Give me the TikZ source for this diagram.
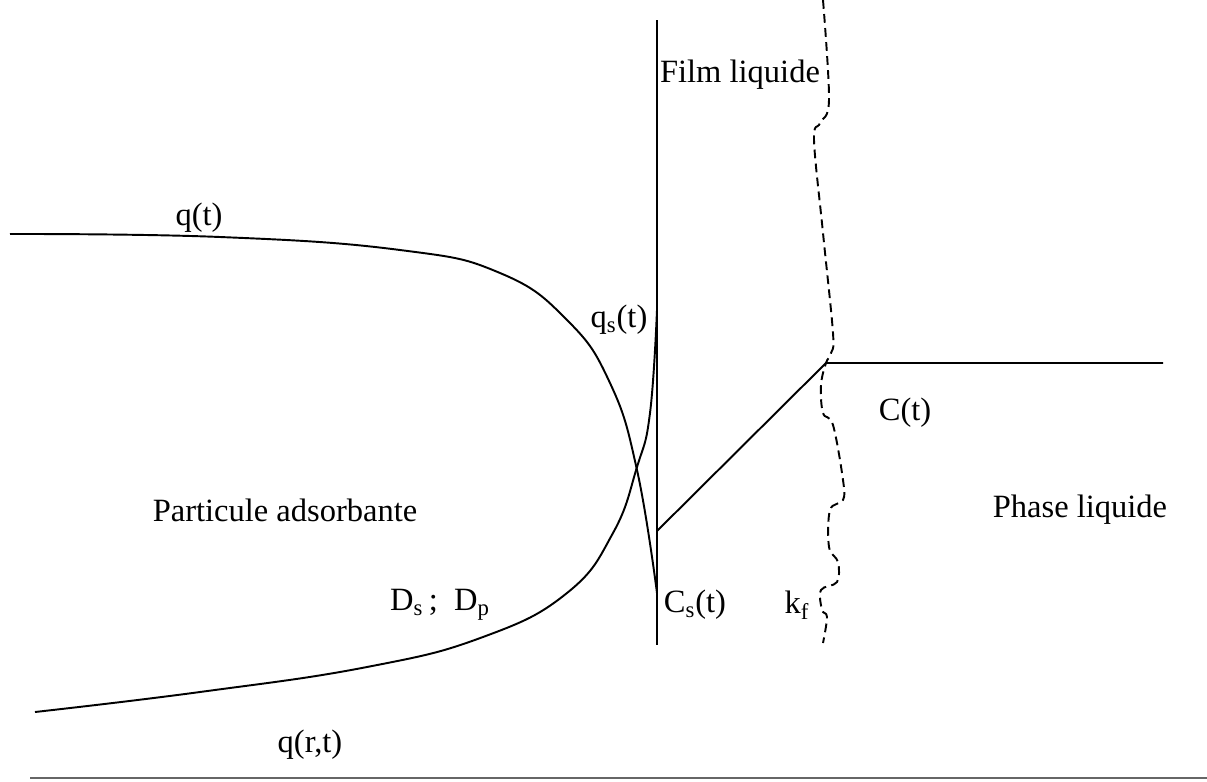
\documentclass[tikz,border=0pt]{standalone}
\usepackage{fontspec}
\setmainfont{Liberation Serif}
\usetikzlibrary{positioning}
\tikzset{
	labeltext/.style={font=\fontsize{18.5}{21}\selectfont, inner sep=0pt}
}
\tikzset{
	profile/.style={line width=1.1pt, black},
	interface/.style={line width=1.1pt, dash pattern=on 5pt off 3pt}
}

\begin{document}
\begin{tikzpicture}[x=0.02cm, y=-0.02cm, >=stealth]
      \useasboundingbox (0,0) rectangle (1207,781);
      % film boundary and outer edge of the film
      \coordinate (filmtop) at (657,20);
      \coordinate (filmbot) at (657,645);
      \draw[profile] (filmtop) -- (filmbot);
      \draw[interface] plot[smooth, tension=0.6] coordinates {(823,0) (829,100) (820,123) (814,140) (823,233) (833,333) (831,353) (826,363) (821,385) (823,413) (833,425) (843,480) (843,500) (830,510) (829,547) (838,562) (837,582) (821,590) (822,610) (827,617) (823,643)};
      % concentration in the liquid
      \coordinate (kink) at (826,363);
      \coordinate (cend) at (1163,363);
      \coordinate (cfilm) at (657,531);
      \draw[profile] (cfilm) -- (kink) -- (cend);
      % q(t) falling to C_s at the surface
      \draw[profile] plot[smooth, tension=0.75] coordinates {(10,234) (220,237) (400,250) (500,273) (567,320) (610,383) (637,470) (657,593)};
      % q(r,t) rising to q_s at the surface
      \draw[profile] plot[smooth, tension=0.75] coordinates {(35,712) (200,692) (367,667) (483,637) (567,593) (613,533) (637,467) (650,413) (657,310)};
      % baseline
      \draw[gray!80!black, line width=0.9pt] (30,778) -- (1207,778);
      % labels
      \node[labeltext] (film) at (740,75) {Film liquide};
      \node[labeltext] (qt) at (199,218) {q(t)};
      \node[labeltext] (qs) at (619,320) {q\textsubscript{s}(t)};
      \node[labeltext] (ct) at (905,413) {C(t)};
      \node[labeltext] (particule) at (285,510) {Particule adsorbante};
      \node[labeltext] (phase) at (1080,510) {Phase liquide};
      \node[labeltext] (diff) at (440,605) {D\textsubscript{s}\,; \ D\textsubscript{p}};
      \node[labeltext] (cs) at (695,605) {C\textsubscript{s}(t)};
      \node[labeltext] (kf) at (797,605) {k\textsubscript{f}};
      \node[labeltext] (qrt) at (310,745) {q(r,t)};
    \end{tikzpicture}
\end{document}
